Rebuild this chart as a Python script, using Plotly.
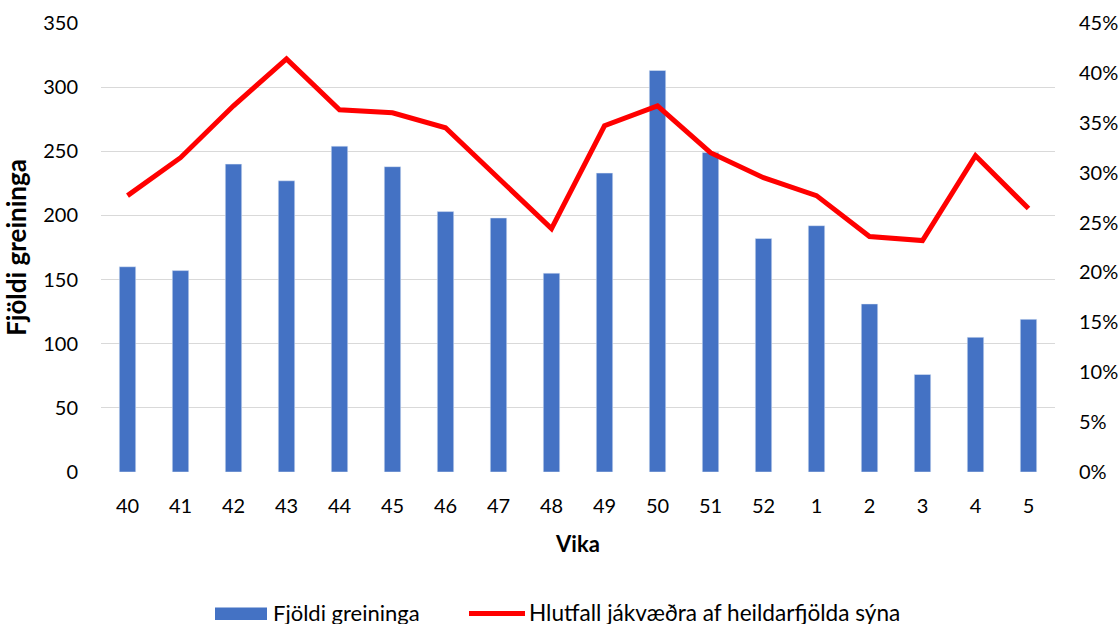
import plotly.graph_objects as go

weeks = ["40", "41", "42", "43", "44", "45", "46", "47", "48", "49", "50", "51", "52", "1", "2", "3", "4", "5"]
fjoldi = [160, 157, 240, 227, 254, 238, 203, 198, 155, 233, 313, 249, 182, 192, 131, 76, 105, 119]
hlutfall = [0.277, 0.315, 0.367, 0.414, 0.363, 0.360, 0.345, 0.295, 0.244, 0.347, 0.367, 0.320, 0.295, 0.277, 0.236, 0.232, 0.317, 0.264]

BAR_NAME = "Fjöldi greininga"
LINE_NAME = "Hlutfall jákvæðra af heildarfjölda sýna"
BLUE = "#4472C4"
RED = "#FF0000"
FONT = "Lato"

W, H = 1120, 624
L, R, T, B = 101, 65, 23, 152
PW, PH = W - L - R, H - T - B


def px(xp):
    return (xp - L) / PW


def py(yp):
    return (H - B - yp) / PH


fig = go.Figure()
fig.add_trace(go.Bar(x=weeks, y=fjoldi, name=BAR_NAME, marker_color=BLUE,
                     width=0.31, yaxis="y", showlegend=False))
fig.add_trace(go.Scatter(x=weeks, y=hlutfall, name=LINE_NAME, mode="lines",
                         line=dict(color=RED, width=5), yaxis="y2", showlegend=False))

# legend drawn manually (Excel style wide swatches)
legend_y = 612.5
fig.add_shape(type="rect", xref="paper", yref="paper", x0=px(215), x1=px(267),
              y0=py(620), y1=py(607.5), fillcolor=BLUE, line=dict(width=0))
fig.add_shape(type="line", xref="paper", yref="paper", x0=px(469), x1=px(525),
              y0=py(613.5), y1=py(613.5), line=dict(color=RED, width=5))
fig.add_annotation(xref="paper", yref="paper", x=px(271), y=py(legend_y), text=BAR_NAME,
                   showarrow=False, xanchor="left", yanchor="middle", font=dict(size=22))
fig.add_annotation(xref="paper", yref="paper", x=px(527), y=py(legend_y), text=LINE_NAME,
                   showarrow=False, xanchor="left", yanchor="middle", font=dict(size=22.6))

fig.update_layout(
    width=W, height=H,
    margin=dict(l=L, r=R, t=T, b=B),
    plot_bgcolor="white", paper_bgcolor="white",
    font=dict(family=FONT, size=20, color="#000000"),
    showlegend=False,
    xaxis=dict(type="category", showgrid=False, showline=False, zeroline=False,
               automargin=False, ticks="outside", ticklen=16, tickcolor="rgba(0,0,0,0)",
               title=dict(text="<b>Vika</b>", font=dict(size=22), standoff=20)),
    yaxis=dict(range=[0, 350], dtick=50, showgrid=True, gridcolor="#D9D9D9", gridwidth=1.3,
               zeroline=False, showline=False, automargin=False, ticks="outside", ticklen=18,
               tickcolor="rgba(0,0,0,0)",
               title=dict(text="<b>Fjöldi greininga</b>", font=dict(size=26), standoff=10)),
    yaxis2=dict(range=[0, 0.45], dtick=0.05, tickformat=".0%", overlaying="y", side="right",
                showgrid=False, zeroline=False, showline=False, automargin=False,
                ticks="outside", ticklen=19, tickcolor="rgba(0,0,0,0)"),
)
fig.write_html("out.html", config={"displayModeBar": False},
               post_script="document.body.style.margin='0';document.body.style.overflow='hidden';")
